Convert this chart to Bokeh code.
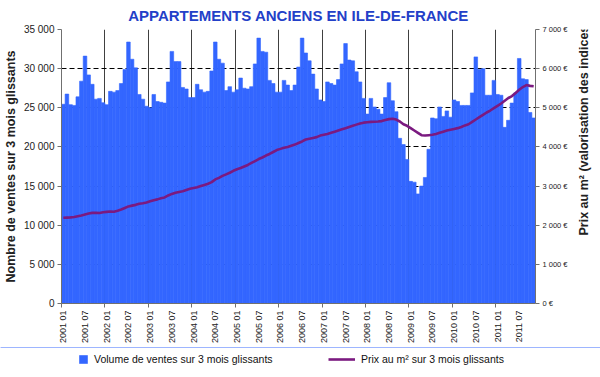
import math
from bokeh.plotting import figure
from bokeh.layouts import column, row
from bokeh.models import (ColumnDataSource, Range1d, LinearAxis, FixedTicker,
                          Legend, LegendItem, Label)
from bokeh.embed import file_html
from bokeh.resources import INLINE

# ---------------- data ----------------
years = list(range(2001, 2012))

volume_2001 = [25450, 26750, 25400, 25300, 26400, 28400, 31600, 29200, 28000, 26100, 26200, 25650]
volume_2002 = [25400, 27100, 27000, 27200, 28100, 29900, 33400, 31200, 30100, 26700, 26100, 25200]
volume_2003 = [25000, 26700, 25800, 25700, 25600, 28300, 32200, 30900, 30900, 27600, 27400, 26300]
volume_2004 = [26300, 28000, 27300, 27000, 27100, 29700, 33400, 31200, 30700, 27200, 27700, 27000]
volume_2005 = [27300, 28800, 27500, 27400, 27700, 30600, 33900, 32200, 32100, 28500, 28100, 27000]
volume_2006 = [27000, 28500, 27900, 27200, 27900, 30200, 33900, 32000, 31000, 29300, 27400, 26000]
volume_2007 = [25800, 28300, 28100, 27900, 28600, 30600, 33200, 31100, 31000, 29600, 28300, 26200]
volume_2008 = [24200, 26200, 25100, 24800, 24200, 26300, 28200, 25900, 24500, 21100, 20300, 18400]
volume_2009 = [15600, 15500, 14000, 15000, 16100, 19700, 23700, 23600, 25100, 23900, 24600, 23800]
volume_2010 = [26000, 25800, 25300, 25300, 25300, 26900, 31500, 29900, 30000, 26600, 26600, 28500]
volume_2011 = [26700, 26600, 22500, 23400, 25600, 26900, 31300, 28700, 28600, 24400, 23700]

price_2001 = [2190, 2195, 2200, 2210, 2230, 2250, 2275, 2300, 2315, 2320, 2310, 2330]
price_2002 = [2340, 2350, 2345, 2370, 2400, 2440, 2480, 2500, 2520, 2550, 2560, 2580]
price_2003 = [2610, 2640, 2660, 2690, 2710, 2760, 2800, 2830, 2850, 2870, 2900, 2930]
price_2004 = [2950, 2970, 3000, 3030, 3060, 3100, 3170, 3210, 3260, 3300, 3340, 3390]
price_2005 = [3430, 3460, 3500, 3540, 3590, 3640, 3690, 3730, 3780, 3820, 3870, 3920]
price_2006 = [3950, 3980, 4000, 4030, 4060, 4100, 4140, 4190, 4210, 4230, 4250, 4290]
price_2007 = [4310, 4330, 4360, 4390, 4420, 4450, 4480, 4510, 4540, 4570, 4600, 4620]
price_2008 = [4630, 4640, 4645, 4650, 4660, 4690, 4710, 4720, 4700, 4650, 4580, 4540]
price_2009 = [4480, 4420, 4360, 4300, 4290, 4300, 4310, 4330, 4360, 4390, 4420, 4440]
price_2010 = [4460, 4480, 4510, 4550, 4580, 4640, 4700, 4760, 4820, 4880, 4930, 4990]
price_2011 = [5050, 5110, 5180, 5250, 5300, 5380, 5460, 5530, 5580, 5560, 5550]

x_tick_labels = ["2001 01", "2001 07", "2002 01", "2002 07", "2003 01", "2003 07",
                 "2004 01", "2004 07", "2005 01", "2005 07", "2006 01", "2006 07",
                 "2007 01", "2007 07", "2008 01", "2008 07", "2009 01", "2009 07",
                 "2010 01", "2010 07", "2011 01", "2011 07"]
left_ticks = [0, 5000, 10000, 15000, 20000, 25000, 30000, 35000]
left_tick_labels = ["0", "5 000", "10 000", "15 000", "20 000", "25 000", "30 000", "35 000"]
right_ticks = [0, 1000, 2000, 3000, 4000, 5000, 6000, 7000]
right_tick_labels = ["0 €", "1 000 €", "2 000 €", "3 000 €", "4 000 €", "5 000 €", "6 000 €", "7 000 €"]

title_text = "APPARTEMENTS ANCIENS EN ILE-DE-FRANCE"
left_label = "Nombre de ventes sur 3 mois glissants"
right_label = "Prix au m² (valorisation des indices)"
legend_bar = "Volume de ventes sur 3 mois glissants"
legend_line = "Prix au m² sur 3 mois glissants"

# ---------------- build ----------------
volume = (volume_2001 + volume_2002 + volume_2003 + volume_2004 + volume_2005 +
          volume_2006 + volume_2007 + volume_2008 + volume_2009 + volume_2010 + volume_2011)
price = (price_2001 + price_2002 + price_2003 + price_2004 + price_2005 +
         price_2006 + price_2007 + price_2008 + price_2009 + price_2010 + price_2011)
months = [f"{y} {m:02d}" for y in years for m in range(1, 13)][:len(volume)]
n = len(months)
xs = [i + 0.5 for i in range(n)]

src = ColumnDataSource(dict(x=xs, volume=volume, price=price, month=months))

FONT = "Liberation Sans"
BLUE = "#3366FF"
PURPLE = "#7B1A80"
AXIS = "#707070"
BAR_STYLE = dict(fill_color=BLUE, line_color=BLUE, line_width=0.6)
LINE_STYLE = dict(line_color=PURPLE, line_width=2.6)

p = figure(width=570, height=347, x_range=Range1d(0, n), y_range=Range1d(0, 35000),
           output_backend="svg", toolbar_location=None,
           min_border_left=61, min_border_right=35, min_border_top=27, min_border_bottom=44)
p.extra_y_ranges = {"price": Range1d(0, 7000)}
p.outline_line_color = None
p.background_fill_color = "white"
p.border_fill_color = "white"

p.title.text = title_text
p.title.align = "center"
p.title.vertical_align = "middle"
p.title.text_font = FONT
p.title.text_font_size = "15px"
p.title.text_font_style = "bold"
p.title.text_color = "#2340C8"

bars = p.vbar(x="x", top="volume", width=1, source=src, **BAR_STYLE)
line = p.line(x="x", y="price", source=src, y_range_name="price", **LINE_STYLE)

# x axis
year_bounds = [i for i in range(0, n + 1, 12)]
label_pos = [months.index(lbl) + 0.5 for lbl in x_tick_labels]
xa = p.xaxis[0]
xa.ticker = FixedTicker(ticks=label_pos, minor_ticks=year_bounds)
xa.major_label_overrides = {pos: lbl for pos, lbl in zip(label_pos, x_tick_labels)}
xa.major_label_orientation = math.pi / 2
xa.major_tick_line_color = None
xa.major_tick_out = 0
xa.major_tick_in = 0
xa.minor_tick_line_color = AXIS
xa.minor_tick_out = 4
xa.minor_tick_in = 0
xa.axis_line_color = AXIS
xa.major_label_text_font = FONT
xa.major_label_text_font_size = "9px"
xa.major_label_text_color = "#222222"
xa.major_label_standoff = 3

# left axis
ya = p.yaxis[0]
ya.ticker = FixedTicker(ticks=left_ticks, minor_ticks=[])
ya.major_label_overrides = {t: l for t, l in zip(left_ticks, left_tick_labels)}
ya.major_tick_out = 4
ya.major_tick_in = 0
ya.major_tick_line_color = AXIS
ya.axis_line_color = AXIS
ya.major_label_text_font = FONT
ya.major_label_text_font_size = "10px"
ya.major_label_text_color = "#222222"
ya.major_label_standoff = 3
ya.axis_label = left_label
ya.axis_label_text_font = FONT
ya.axis_label_text_font_size = "12.5px"
ya.axis_label_text_font_style = "bold"
ya.axis_label_text_color = "#222222"
ya.axis_label_standoff = 3

# right axis
ra = LinearAxis(y_range_name="price", ticker=FixedTicker(ticks=right_ticks, minor_ticks=[]))
ra.major_label_overrides = {t: l for t, l in zip(right_ticks, right_tick_labels)}
ra.major_tick_out = 4
ra.major_tick_in = 0
ra.major_tick_line_color = AXIS
ra.axis_line_color = AXIS
ra.major_label_text_font = FONT
ra.major_label_text_font_size = "7.5px"
ra.major_label_text_color = "#222222"
ra.major_label_standoff = 3
p.add_layout(ra, "right")

# grids
p.xgrid.ticker = FixedTicker(ticks=year_bounds[1:])
p.xgrid.grid_line_color = "#404040"
p.xgrid.grid_line_width = 1
p.ygrid.ticker = FixedTicker(ticks=left_ticks[1:])
p.ygrid.grid_line_color = "black"
p.ygrid.grid_line_dash = "5 3"
p.ygrid.grid_line_width = 1

# right-hand axis title (reads bottom to top), in a narrow strip
pr = figure(width=30, height=347, x_range=Range1d(0, 1), y_range=Range1d(0, 1),
            output_backend="svg", toolbar_location=None, x_axis_location=None,
            y_axis_location=None, min_border=0, min_border_left=0, min_border_right=0,
            min_border_top=0, min_border_bottom=0)
pr.grid.visible = False
pr.outline_line_color = None
pr.border_fill_color = "white"
pr.background_fill_color = "white"
pr.add_layout(Label(x=13, y=175, x_units="screen", y_units="screen", text=right_label,
                    angle=math.pi / 2, text_align="center", text_baseline="middle",
                    text_font=FONT, text_font_size="12.5px", text_font_style="bold",
                    text_color="#222222"))

# legend strip below the chart (key renderers are out of view; only legend samples show)
pl = figure(width=600, height=30, x_range=Range1d(0, 1), y_range=Range1d(-2, -1),
            output_backend="svg", toolbar_location=None, x_axis_location=None,
            y_axis_location=None, min_border=0, min_border_left=0, min_border_right=0,
            min_border_top=0, min_border_bottom=0)
pl.grid.visible = False
pl.outline_line_color = None
pl.border_fill_color = "white"
pl.background_fill_color = "white"
bar_key = pl.vbar(x="x", top="volume", width=1, source=src, **BAR_STYLE)
line_key = pl.line(x="x", y="price", source=src, **LINE_STYLE)

leg_common = dict(padding=0, margin=0, border_line_color=None, background_fill_alpha=0,
                  label_text_font=FONT, label_text_font_size="10.5px", label_text_color="#111111",
                  label_height=10, glyph_height=10, label_standoff=6)
leg1 = Legend(items=[LegendItem(label=legend_bar, renderers=[bar_key])],
              location=(78, 12), glyph_width=10, **leg_common)
leg2 = Legend(items=[LegendItem(label=legend_line, renderers=[line_key])],
              location=(328, 12), glyph_width=27, **leg_common)
pl.add_layout(leg1)
pl.add_layout(leg2)

layout = column(row(p, pr, spacing=0), pl, spacing=0)
open("out.html", "w").write(file_html(layout, INLINE))
